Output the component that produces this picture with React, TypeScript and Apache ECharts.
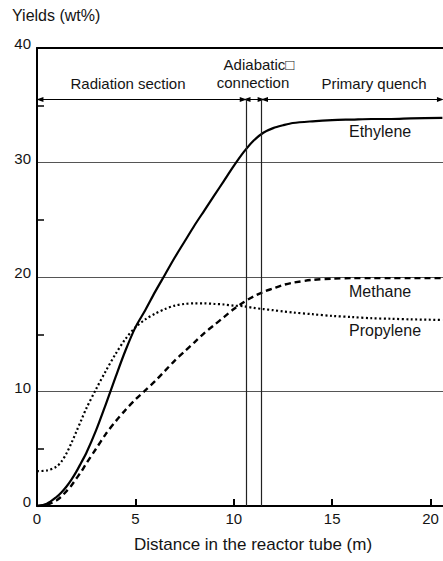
import React, { useEffect, useRef } from "react";
import * as echarts from "echarts";

const distance = [0, 0.5, 1, 1.25, 1.5, 1.75, 2, 2.25, 2.5, 3, 3.5, 4, 4.5, 5, 5.5, 6, 6.5, 7, 7.5, 8, 8.5, 9, 9.5, 10, 10.5, 11, 11.5, 12, 12.5, 13, 14, 15, 16, 17, 18, 19, 20.6];
const ethylene = [0, 0.2, 0.8, 1.2, 1.7, 2.3, 3.0, 3.8, 4.6, 6.6, 8.9, 11.3, 13.6, 15.6, 17.1, 18.7, 20.2, 21.7, 23.1, 24.5, 25.8, 27.1, 28.4, 29.7, 30.9, 31.9, 32.6, 33.0, 33.25, 33.45, 33.6, 33.7, 33.75, 33.8, 33.8, 33.85, 33.9];
const methane = [0, 0.1, 0.5, 0.85, 1.3, 1.8, 2.4, 3.0, 3.7, 5.0, 6.3, 7.4, 8.4, 9.3, 10.1, 10.9, 11.8, 12.7, 13.5, 14.3, 15.1, 15.8, 16.5, 17.2, 17.8, 18.3, 18.7, 19.0, 19.3, 19.5, 19.75, 19.85, 19.9, 19.9, 19.9, 19.9, 19.9];
const propylene = [3.05, 3.1, 3.45, 3.9, 4.6, 5.5, 6.5, 7.5, 8.5, 10.2, 11.8, 13.3, 14.6, 15.6, 16.3, 16.8, 17.2, 17.5, 17.65, 17.7, 17.7, 17.65, 17.6, 17.5, 17.45, 17.3, 17.2, 17.1, 17.0, 16.9, 16.75, 16.6, 16.5, 16.4, 16.35, 16.3, 16.25];

const xTickLabels = [0, 5, 10, 15, 20];
const xTicks = [5, 10, 15, 20];

// section boundaries (m) and the level of the section arrows (wt%)
const sectionBounds = [10.65, 11.41];
const arrowLevel = 35.5;
const sectionArrows = [
  [0.15, 10.48],
  [10.67, 11.39],
  [11.56, 20.5],
];

const FONT = "'Liberation Sans', Arial, Helvetica, sans-serif";
const INK = "#141414";

function pairs(ys: number[]) {
  return distance.map((x, i) => [x, ys[i]]);
}

export default function App() {
  const ref = useRef<HTMLDivElement>(null);
  useEffect(() => {
    if (!ref.current) return;
    const chart = echarts.init(ref.current, null, { renderer: "svg" });
    const txt = (text: string, x: number, y: number, size: number, align: string = "left") => ({
      type: "text",
      x,
      y,
      style: { text, fontSize: size, fontFamily: FONT, fill: INK, align, verticalAlign: "middle" },
    });
    chart.setOption({
      animation: false,
      grid: { left: 37, top: 48, right: 0, bottom: 55, containLabel: false },
      xAxis: [
        {
          type: "value",
          min: 0,
          max: 20.63,
          interval: 5,
          axisLine: { show: true, onZero: false, lineStyle: { color: "#000", width: 2 } },
          axisTick: { show: true, inside: true, length: 7, customValues: xTicks, lineStyle: { color: "#000", width: 2 } },
          axisLabel: { customValues: xTickLabels, fontSize: 15, fontFamily: FONT, color: INK, margin: 5 },
          splitLine: { show: false },
        },
        {
          type: "value",
          position: "top",
          min: 0,
          max: 20.63,
          axisLine: { show: true, onZero: false, lineStyle: { color: "#000", width: 2 } },
          axisTick: { show: false },
          axisLabel: { show: false },
          splitLine: { show: false },
        },
      ],
      yAxis: {
        type: "value",
        min: 0,
        max: 40,
        interval: 10,
        axisLine: { show: true, onZero: false, lineStyle: { color: "#000", width: 2 } },
        axisTick: { show: false, inside: true },
        minorTick: { show: true, splitNumber: 2, length: 7, lineStyle: { color: "#000", width: 1.5 } },
        minorSplitLine: { show: false },
        axisLabel: { fontSize: 15, fontFamily: FONT, color: INK, margin: 6, verticalAlign: "bottom", lineHeight: 9 },
        splitLine: { show: true, lineStyle: { color: "#555", width: 1.2 } },
      },
      series: [
        {
          name: "Ethylene",
          type: "line",
          data: pairs(ethylene),
          showSymbol: false,
          smooth: 0.3,
          lineStyle: { color: "#000", width: 2.2, type: "solid" },
          markLine: {
            silent: true,
            symbol: ["triangle", "triangle"],
            symbolSize: [5, 7],
            label: { show: false },
            lineStyle: { color: "#000", width: 1, type: "solid" },
            data: sectionArrows.map(([a, b]) => [{ coord: [a, arrowLevel] }, { coord: [b, arrowLevel] }]),
          },
        },
        {
          name: "Methane",
          type: "line",
          data: pairs(methane),
          showSymbol: false,
          smooth: 0.3,
          lineStyle: { color: "#000", width: 2.4, type: [6, 4] },
          markLine: {
            silent: true,
            symbol: ["none", "none"],
            label: { show: false },
            lineStyle: { color: "#222", width: 1.2, type: "solid" },
            data: sectionBounds.map((b) => [{ coord: [b, 0] }, { coord: [b, arrowLevel] }]),
          },
        },
        {
          name: "Propylene",
          type: "line",
          data: pairs(propylene),
          showSymbol: false,
          smooth: 0.3,
          lineStyle: { color: "#000", width: 2.2, type: [2, 2.5] },
        },
      ],
      graphic: [
        txt("Yields (wt%)", 12, 15, 16),
        txt("Radiation section", 128, 83, 15, "center"),
        txt("Adiabatic\u25a1", 259, 64, 15, "center"),
        txt("connection", 253, 82, 15, "center"),
        txt("Primary quench", 374, 83, 15, "center"),
        txt("Ethylene", 349, 131, 16),
        txt("Methane", 349, 291, 16),
        txt("Propylene", 349, 330, 16),
        txt("Distance in the reactor tube (m)", 253, 544, 17, "center"),
      ],
    });
    return () => chart.dispose();
  }, []);
  return <div ref={ref} style={{ position: "fixed", left: 0, top: 0, width: 443, height: 561, background: "#fff" }} />;
}
